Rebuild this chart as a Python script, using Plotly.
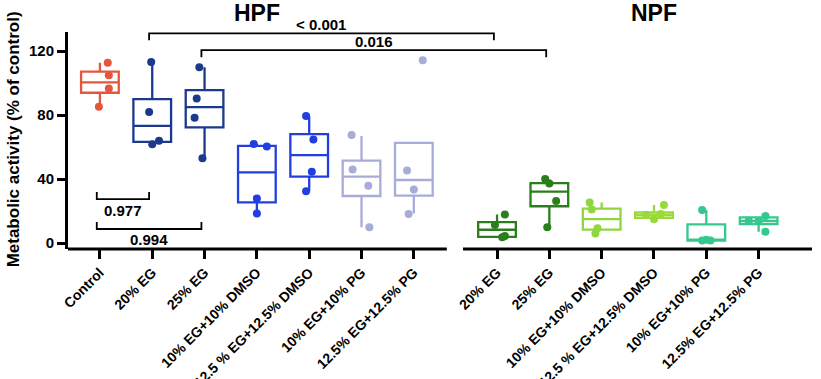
import plotly.graph_objects as go

# ---- data ----
hpf_labels = ["Control", "20% EG", "25% EG", "10% EG+10% DMSO",
              "12.5 % EG+12.5% DMSO", "10% EG+10% PG", "12.5% EG+12.5% PG"]
npf_labels = ["20% EG", "25% EG", "10% EG+10% DMSO",
              "12.5 % EG+12.5% DMSO", "10% EG+10% PG", "12.5% EG+12.5% PG"]

hpf_q1 = [94, 63.3, 72.3, 25.4, 41.5, 29.4, 29.6]
hpf_median = [100.5, 73.3, 85, 44.2, 55, 41.5, 39.4]
hpf_q3 = [107.2, 90, 95.6, 60.8, 68.1, 51.5, 62.7]
hpf_low = [85.2, 62, 53, 18.5, 32.3, 9.8, 18.5]
hpf_high = [112.7, 113.3, 110, 61.9, 79.4, 67, 62.7]
hpf_points = [
    [112.7, 105, 96.7, 85.2],
    [113.3, 82, 61.8, 64],
    [110, 90.4, 78.3, 53],
    [61.9, 60.4, 27.9, 18.5],
    [79.4, 64.8, 44.6, 32.3],
    [67.5, 46, 35.8, 9.8],
    [114.4, 45.4, 33.5, 18.1],
]

npf_q1 = [3.8, 23, 8.4, 15.8, 1.5, 11.9]
npf_median = [8.3, 32.1, 15, 17.6, 2.0, 13.8]
npf_q3 = [13, 37.5, 21.5, 19.2, 11.7, 16]
npf_low = [3.8, 9.8, 8.4, 15.8, 1.5, 7.1]
npf_high = [17.9, 39.8, 25.4, 23.8, 20.6, 16]
npf_points = [
    [17.9, 11.3, 4.4, 3.6],
    [40, 37.3, 26.3, 9.8],
    [25.4, 21, 9.2, 6],
    [23.8, 14.8, 17.6, 18.2],
    [20.6, 1.5, 1.5, 2.0],
    [13.8, 16.9, 13.8, 7.1],
]

# comparisons: (group a, index a, group b, index b, label)
comparisons_top = [("hpf", 1, "npf", 0, "< 0.001"), ("hpf", 2, "npf", 1, "0.016")]
comparisons_bottom = [("hpf", 0, "hpf", 1, "0.977"), ("hpf", 0, "hpf", 2, "0.994")]

# ---- layout / style ----
NPF_START = 7.59
XRANGE = [-0.61, 13.61]
YRANGE = [-3.75, 132]
BOX_W = 0.72

hpf_colors = ["#E4573D", "#1C3A8C", "#1C3A8C", "#223EE0", "#223EE0", "#A7ACD8", "#A7ACD8"]
npf_colors = ["#2A7E1B", "#2A7E1B", "#8FD63F", "#9AD93A", "#35C88E", "#35C88E"]

hpf_jitter = [
    [0.15, 0.17, 0.17, -0.02],
    [-0.02, -0.06, 0.0, 0.13],
    [-0.1, -0.15, -0.19, -0.04],
    [-0.06, 0.19, 0.0, 0.0],
    [-0.06, 0.08, 0.05, -0.06],
    [-0.19, -0.17, 0.13, 0.15],
    [0.17, -0.13, 0.0, -0.1],
]
npf_jitter = [
    [0.15, -0.04, 0.15, 0.1],
    [-0.08, 0.0, 0.13, -0.04],
    [-0.23, -0.19, -0.08, -0.12],
    [0.19, 0.0, -0.15, 0.13],
    [-0.08, -0.08, 0.08, 0.0],
    [-0.19, 0.13, 0.0, 0.13],
]

FONT = "Arial, Liberation Sans, sans-serif"

hpf_pos = list(range(len(hpf_labels)))
npf_pos = [NPF_START + i for i in range(len(npf_labels))]
pos = {"hpf": hpf_pos, "npf": npf_pos}


def to_paper(x):
    return (x - XRANGE[0]) / (XRANGE[1] - XRANGE[0])


def y_paper(y):
    return (y - YRANGE[0]) / (YRANGE[1] - YRANGE[0])


fig = go.Figure()

groups = [
    (hpf_pos, hpf_q1, hpf_median, hpf_q3, hpf_low, hpf_high, hpf_points, hpf_jitter, hpf_colors),
    (npf_pos, npf_q1, npf_median, npf_q3, npf_low, npf_high, npf_points, npf_jitter, npf_colors),
]
for p, q1, med, q3, lo, hi, pts, jit, cols in groups:
    for i in range(len(p)):
        fig.add_trace(go.Box(
            x=[p[i]], q1=[q1[i]], median=[med[i]], q3=[q3[i]],
            lowerfence=[lo[i]], upperfence=[hi[i]],
            width=BOX_W, whiskerwidth=0,
            line=dict(color=cols[i], width=2.3),
            fillcolor="rgba(255,255,255,0)",
            showlegend=False,
        ))
        fig.add_trace(go.Scatter(
            x=[p[i] + j for j in jit[i]], y=pts[i], mode="markers",
            marker=dict(color=cols[i], size=8),
            showlegend=False,
        ))


# significance brackets (drawn in paper space so nothing is clipped)
def bracket(ga, ia, gb, ib, label, y, tick, text_y):
    xa = to_paper(pos[ga][ia] - 0.06)
    xb = to_paper(pos[gb][ib] - 0.06)
    ya, yt = y_paper(y), y_paper(y + tick)
    fig.add_shape(
        type="path", xref="paper", yref="paper",
        path=f"M {xa},{yt} L {xa},{ya} L {xb},{ya} L {xb},{yt}",
        line=dict(color="black", width=1.8),
    )
    fig.add_annotation(
        x=(xa + xb) / 2, y=y_paper(text_y), xref="paper", yref="paper",
        text=f"<b>{label}</b>", showarrow=False, xanchor="center", yanchor="middle",
        font=dict(family=FONT, size=15, color="black"),
    )


bracket(*comparisons_top[0], y=131.2, tick=-4.4, text_y=136.9)
bracket(*comparisons_top[1], y=120.6, tick=-4.4, text_y=125.8)
bracket(*comparisons_bottom[0], y=27.5, tick=4.4, text_y=20.6)
bracket(*comparisons_bottom[1], y=8.75, tick=4.4, text_y=2.5)

# broken x-axis lines
for x0, x1 in [(XRANGE[0], 6.63), (6.94, XRANGE[1])]:
    fig.add_shape(type="line", xref="paper", yref="paper",
                  x0=to_paper(x0), x1=to_paper(x1), y0=0, y1=0,
                  line=dict(color="black", width=3))

# panel titles
for text, x in [("HPF", 3.0), ("NPF", NPF_START + 3.0)]:
    fig.add_annotation(x=to_paper(x), y=1.088, xref="paper", yref="paper",
                       text=f"<b>{text}</b>", showarrow=False,
                       xanchor="center", yanchor="middle",
                       font=dict(family=FONT, size=23, color="black"))

fig.add_annotation(
    x=-0.074, y=0.505, xref="paper", yref="paper", textangle=-90,
    xanchor="center", yanchor="middle",
    text="<b>Metabolic activity (% of control)</b>", showarrow=False,
    font=dict(family=FONT, size=17, color="black"),
)

fig.update_layout(
    width=821, height=379,
    margin=dict(l=68, r=9, t=32, b=130),
    paper_bgcolor="white", plot_bgcolor="white",
    boxmode="overlay",
    font=dict(family=FONT, color="black"),
)
fig.update_xaxes(
    range=XRANGE, tickvals=hpf_pos + npf_pos,
    ticktext=[f"<b>{t}</b>" for t in hpf_labels + npf_labels],
    tickangle=-45, ticks="outside", ticklen=9, tickwidth=3, tickcolor="black",
    tickfont=dict(family=FONT, size=14, color="black"),
    showline=False, showgrid=False, zeroline=False, automargin=False,
)
fig.update_yaxes(
    range=YRANGE, tickvals=[0, 40, 80, 120],
    ticks="outside", ticklen=8, tickwidth=3, tickcolor="black",
    tickfont=dict(family=FONT, size=15, color="black", weight="bold"),
    showline=True, linewidth=3, linecolor="black",
    showgrid=False, zeroline=False, automargin=False,
)

# drop the browser's default 8px body margin so the figure sits at the page corner
fig.write_html("out.html", config={"displayModeBar": False},
               post_script="document.body.style.margin='0';")
